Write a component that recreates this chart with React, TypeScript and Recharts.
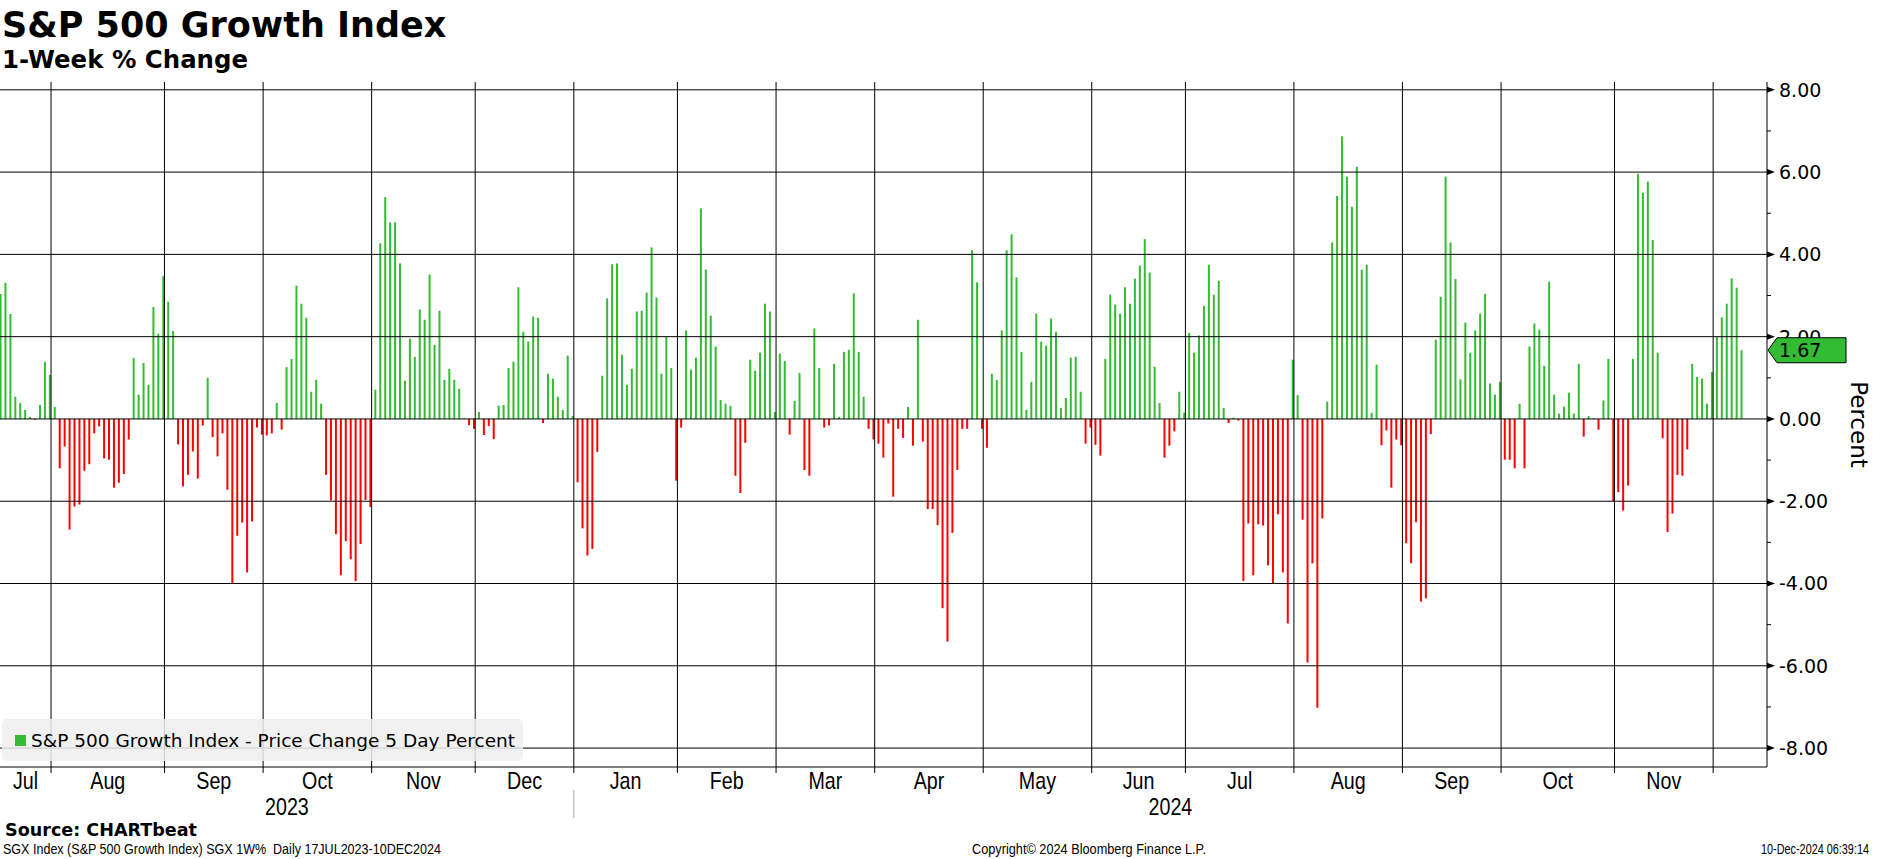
import React from "react";
import { BarChart, Bar, Cell, XAxis, YAxis, ReferenceLine, Legend } from "recharts";

// 1-week % change, one value per trading day, grouped by month (17 Jul 2023 - 9 Dec 2024)
const jul2023 = [3.04, 3.31, 2.55, 0.54, 0.39, 0.22, 0.05, -0.02, 0.34, 1.39, 1.07];
const aug2023 = [0.29, -1.2, -0.67, -2.69, -2.13, -2.08, -1.26, -1.1, -0.35, -0.18, -0.96, -0.99, -1.67, -1.55, -1.34, -0.5, 1.48, 0.59, 1.36, 0.83, 2.72, 2.07, 3.47];
const sep2023 = [2.85, 2.14, -0.62, -1.64, -1.36, -0.79, -1.45, -0.16, 1.0, -0.44, -0.91, -0.35, -1.72, -4.01, -2.84, -2.52, -3.73, -2.49, -0.21, -0.38];
const oct2023 = [-0.4, -0.35, 0.39, -0.26, 1.26, 1.46, 3.24, 2.8, 2.46, 0.66, 0.95, 0.37, -1.36, -1.98, -2.8, -3.8, -2.97, -3.41, -3.94, -3.04, -1.97, -2.14];
const nov2023 = [0.71, 4.27, 5.39, 4.78, 4.78, 3.78, 0.93, 1.95, 1.51, 2.66, 2.41, 3.51, 1.8, 2.63, 0.95, 1.22, 0.95, 0.73, 0.02, -0.15, -0.24];
const dec2023 = [0.17, -0.39, -0.17, -0.49, 0.32, 0.34, 1.24, 1.39, 3.2, 2.12, 1.88, 2.49, 2.46, -0.1, 1.1, 0.98, 0.54, 0.22, 1.54, 0.07];
const jan2024 = [-1.54, -2.66, -3.32, -3.16, -0.8, 1.05, 2.93, 3.76, 3.78, 1.56, 0.83, 1.22, 2.61, 2.63, 3.07, 4.17, 2.95, 1.1, 2.0, 1.24, -1.5];
const feb2024 = [-0.21, 2.15, 1.2, 1.49, 5.12, 3.63, 2.51, 1.76, 0.46, 0.37, 0.32, -1.38, -1.8, -0.58, 1.44, 1.17, 1.61, 2.8, 2.61, 0.17];
const mar2024 = [1.59, 1.41, -0.38, 0.44, 1.12, -1.24, -1.38, 2.2, 1.24, -0.21, -0.16, 1.34, 0.05, 1.63, 1.68, 3.05, 1.63, 0.54, -0.24, -0.5];
const apr2024 = [-0.6, -0.94, -0.11, -1.89, -0.24, -0.46, 0.29, -0.65, 2.41, -0.55, -2.19, -2.19, -2.58, -4.6, -5.41, -2.77, -1.24, -0.24, -0.24, 4.1, 3.32, -0.24];
const may2024 = [-0.7, 1.1, 0.95, 2.15, 4.1, 4.49, 3.44, 1.63, 0.22, 0.9, 2.56, 1.88, 1.78, 2.44, 2.12, 0.27, 0.51, 1.49, 1.51, 0.66, -0.6, -0.21];
const jun2024 = [-0.63, -0.89, 1.46, 3.02, 2.78, 2.56, 3.2, 2.8, 3.41, 3.73, 4.37, 3.56, 1.27, 0.39, -0.94, -0.65, -0.3, 0.66, 0.15];
const jul2024 = [2.09, 1.61, 2.03, 2.75, 3.75, 3.02, 3.36, 0.27, -0.1, 0.03, -0.04, -3.94, -2.54, -3.8, -2.56, -2.59, -3.56, -4.01, -2.32, -3.73, -4.97, 1.44];
const aug2024 = [0.58, -2.45, -5.92, -3.51, -7.02, -2.42, 0.42, 4.29, 5.42, 6.87, 5.89, 5.16, 6.13, 3.63, 3.75, 0.15, 1.32, -0.64, -0.28, -1.67, -0.5, -0.64];
const sep2024 = [-3.02, -3.51, -2.51, -4.44, -4.36, -0.37, 1.93, 2.97, 5.89, 4.29, 3.4, 0.96, 2.34, 1.61, 2.15, 2.56, 3.04, 0.86, 0.59, 0.9];
const oct2024 = [-0.99, -0.99, -1.2, 0.37, -1.2, 1.76, 2.32, 2.17, 1.29, 3.34, 0.59, 0.13, 0.3, 0.64, 0.13, 1.34, -0.43, 0.07, 0.02, -0.26, 0.45, 1.46, -2.0];
const nov2024 = [-1.78, -2.23, -1.62, 1.46, 5.96, 5.5, 5.77, 4.35, 1.61, -0.47, -2.75, -2.3, -1.36, -1.38, -0.74, 1.34, 1.02, 0.98, 0.37, 1.14];
const dec2024 = [1.99, 2.47, 2.8, 3.42, 3.19, 1.67];

const months = [
  { name: "Jul", year: "2023", values: jul2023 },
  { name: "Aug", year: "2023", values: aug2023 },
  { name: "Sep", year: "2023", values: sep2023 },
  { name: "Oct", year: "2023", values: oct2023 },
  { name: "Nov", year: "2023", values: nov2023 },
  { name: "Dec", year: "2023", values: dec2023 },
  { name: "Jan", year: "2024", values: jan2024 },
  { name: "Feb", year: "2024", values: feb2024 },
  { name: "Mar", year: "2024", values: mar2024 },
  { name: "Apr", year: "2024", values: apr2024 },
  { name: "May", year: "2024", values: may2024 },
  { name: "Jun", year: "2024", values: jun2024 },
  { name: "Jul", year: "2024", values: jul2024 },
  { name: "Aug", year: "2024", values: aug2024 },
  { name: "Sep", year: "2024", values: sep2024 },
  { name: "Oct", year: "2024", values: oct2024 },
  { name: "Nov", year: "2024", values: nov2024 },
  { name: "Dec", year: "2024", values: dec2024 },
];

const yLabels = [-8, -6, -4, -2, 0, 2, 4, 6, 8];
const yMinor = [-7, -5, -3, -1, 1, 3, 5, 7];

const SERIES_NAME = "S&P 500 Growth Index - Price Change 5 Day Percent";
const GREEN = "#33bb33";
const RED = "#ff0000";

const X_MIN = -0.2;
const X_MAX = 358.07;
const Y_MIN = -8.46;
const Y_MAX = 8.19;

const data = months.flatMap((m) => m.values).map((v, i) => ({ i, v }));
const lastValue = data[data.length - 1].v;

// month edges, month label centres, year label centres
type XTick = { kind: "edge" | "label"; label?: string; dy?: number; yearEdge?: boolean };
const xInfo = new Map<number, XTick>();
const edges: number[] = [];
const yearSpan: Record<string, [number, number]> = {};
{
  let idx = 0;
  let prev = X_MIN;
  months.forEach((m, k) => {
    const last = idx + m.values.length - 1;
    const isLast = k === months.length - 1;
    const edge = isLast ? X_MAX : last + 0.15;
    if (!isLast) {
      edges.push(edge);
      xInfo.set(edge, { kind: "edge", yearEdge: months[k + 1].year !== m.year });
      xInfo.set((prev + edge) / 2, { kind: "label", label: m.name, dy: 22 });
    }
    if (!yearSpan[m.year]) yearSpan[m.year] = [prev, edge];
    yearSpan[m.year][1] = edge;
    prev = edge;
    idx = last + 1;
  });
  Object.keys(yearSpan).forEach((y) => {
    const [a, b] = yearSpan[y];
    xInfo.set((a + b) / 2, { kind: "label", label: y, dy: 48 });
  });
}
const xTicks = Array.from(xInfo.keys()).sort((a, b) => a - b);

const renderXTick = (props: any) => {
  const { x, y, payload } = props;
  const info = xInfo.get(payload.value);
  if (!info) return <g />;
  if (info.kind === "edge") {
    return (
      <g>
        <line x1={x} x2={x} y1={y} y2={y + 6} stroke="#000" strokeWidth={1} />
        {info.yearEdge && <line x1={x} x2={x} y1={y + 23} y2={y + 51} stroke="#aaa" strokeWidth={1} />}
      </g>
    );
  }
  return (
    <text
      transform={`translate(${x},${y + (info.dy || 0)}) scale(0.82,1)`}
      textAnchor="middle"
      fontFamily="'Liberation Sans', Arial, sans-serif"
      fontSize={24}
      fill="#000"
    >
      {info.label}
    </text>
  );
};

const renderYTick = (props: any) => {
  const { x, y, payload } = props;
  const v = payload.value;
  if (v === lastValue && !yLabels.includes(v)) {
    return (
      <g>
        <polygon
          points={`${x + 1},${y} ${x + 10},${y - 12.5} ${x + 79},${y - 12.5} ${x + 79},${y + 12.5} ${x + 10},${y + 12.5}`}
          fill={GREEN}
          stroke="#000"
          strokeWidth={1}
        />
        <text x={x + 12} y={y} dy="0.36em" fontFamily="'DejaVu Sans', sans-serif" fontSize={19} fill="#000">
          {v.toFixed(2)}
        </text>
      </g>
    );
  }
  if (yLabels.includes(v)) {
    return (
      <g>
        <polygon points={`${x},${y - 3} ${x + 8},${y} ${x},${y + 3}`} fill="#000" />
        <text x={x + 12} y={y} dy="0.36em" fontFamily="'DejaVu Sans', sans-serif" fontSize={19} fill="#000">
          {v.toFixed(2)}
        </text>
      </g>
    );
  }
  return <line x1={x} x2={x + 4} y1={y} y2={y} stroke="#000" strokeWidth={1} />;
};

const renderPercent = (props: any) => {
  const vb = props.viewBox || {};
  const cx = vb.x + 92;
  const cy = vb.y + vb.height / 2;
  return (
    <text
      x={cx}
      y={cy}
      transform={`rotate(90, ${cx}, ${cy})`}
      textAnchor="middle"
      dominantBaseline="central"
      fontFamily="'DejaVu Sans', sans-serif"
      fontSize={23}
      fill="#000"
    >
      Percent
    </text>
  );
};

const renderLegend = (props: any) => (
  <div
    style={{
      width: 521,
      height: 42,
      boxSizing: "border-box",
      background: "rgba(238,238,238,0.85)",
      borderRadius: 5,
      display: "flex",
      alignItems: "center",
      paddingLeft: 13,
      fontFamily: "'DejaVu Sans', sans-serif",
      fontSize: 18.5,
      color: "#000",
      whiteSpace: "nowrap",
    }}
  >
    {(props.payload || []).map((p: any) => (
      <span key={p.value} style={{ display: "flex", alignItems: "center" }}>
        <span style={{ display: "inline-block", width: 11, height: 11, background: p.color, marginRight: 5 }} />
        {p.value}
      </span>
    ))}
  </div>
);

const App: React.FC = () => {
  return (
    <div style={{ position: "absolute", left: 0, top: 0, width: 1877, height: 859, background: "#fff", overflow: "hidden" }}>
      <BarChart
        width={1877}
        height={859}
        data={data}
        margin={{ top: 82, right: 0, bottom: 32, left: 0 }}
        barSize={2}
      >
        {yLabels.map((v) => (
          <ReferenceLine key={"h" + v} y={v} stroke="#000" strokeWidth={1} />
        ))}
        {edges.map((e) => (
          <ReferenceLine key={"v" + e} x={e} stroke="#000" strokeWidth={1} />
        ))}
        <XAxis
          type="number"
          dataKey="i"
          domain={[X_MIN, X_MAX]}
          allowDataOverflow
          ticks={xTicks}
          interval={0}
          tickLine={false}
          tickSize={0}
          tickMargin={0}
          axisLine={{ stroke: "#000", strokeWidth: 1 }}
          height={60}
          tick={renderXTick}
        />
        <YAxis
          orientation="right"
          type="number"
          domain={[Y_MIN, Y_MAX]}
          allowDataOverflow
          ticks={[...yMinor, ...yLabels, lastValue]}
          interval={0}
          width={110}
          tickLine={false}
          tickSize={0}
          tickMargin={0}
          axisLine={{ stroke: "#000", strokeWidth: 1 }}
          tick={renderYTick}
          label={renderPercent}
        />
        <Bar dataKey="v" name={SERIES_NAME} fill={GREEN} isAnimationActive={false}>
          {data.map((d) => (
            <Cell key={d.i} fill={d.v >= 0 ? GREEN : RED} />
          ))}
        </Bar>
        <Legend
          content={renderLegend}
          layout="horizontal"
          verticalAlign="middle"
          align="center"
          wrapperStyle={{ left: 2, top: 719, width: 521, height: 42 }}
        />
      </BarChart>
      <svg
        width={1877}
        height={859}
        style={{ position: "absolute", left: 0, top: 0, pointerEvents: "none" }}
      >
        <text x={2} y={37} fontFamily="'DejaVu Sans', sans-serif" fontWeight="bold" fontSize={35} fill="#000">
          S&amp;P 500 Growth Index
        </text>
        <text x={2} y={68} fontFamily="'DejaVu Sans', sans-serif" fontWeight="bold" fontSize={25} textLength={246} lengthAdjust="spacingAndGlyphs" fill="#000">
          1-Week % Change
        </text>
        <text x={5} y={836} fontFamily="'DejaVu Sans', sans-serif" fontWeight="bold" fontSize={17} textLength={192} lengthAdjust="spacingAndGlyphs" fill="#000">
          Source: CHARTbeat
        </text>
        <text x={3} y={854} fontFamily="'Liberation Sans', Arial, sans-serif" fontSize={14} textLength={438} lengthAdjust="spacingAndGlyphs" fill="#000" style={{ whiteSpace: "pre" }}>
          SGX Index (S&amp;P 500 Growth Index) SGX 1W%  Daily 17JUL2023-10DEC2024
        </text>
        <text x={972} y={854} fontFamily="'Liberation Sans', Arial, sans-serif" fontSize={14} textLength={234} lengthAdjust="spacingAndGlyphs" fill="#000">
          Copyright© 2024 Bloomberg Finance L.P.
        </text>
        <text x={1869} y={854} textAnchor="end" fontFamily="'Liberation Sans', Arial, sans-serif" fontSize={14} textLength={108} lengthAdjust="spacingAndGlyphs" fill="#000">
          10-Dec-2024 06:39:14
        </text>
      </svg>
    </div>
  );
};

export default App;
